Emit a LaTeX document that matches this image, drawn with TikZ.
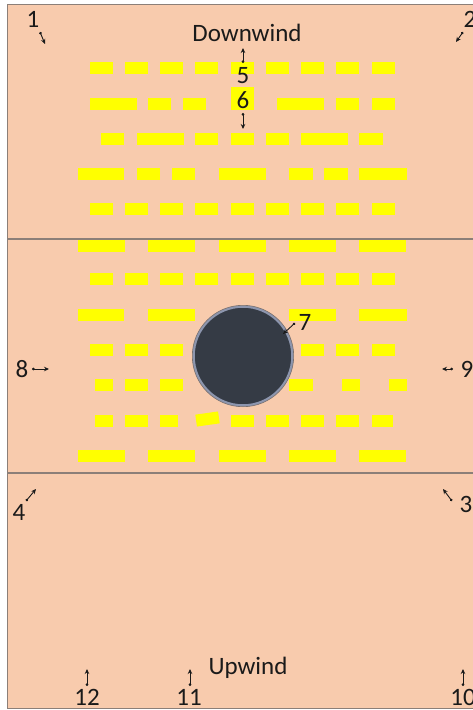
\documentclass[tikz,border=0pt]{standalone}
\usepackage{fontspec}
\setmainfont{Carlito}
\usetikzlibrary{arrows.meta}
\definecolor{peach}{HTML}{F8CBAD}
\definecolor{bar}{HTML}{FFFF00}
\definecolor{edge}{HTML}{8C7F78}
\definecolor{tankfill}{HTML}{353B45}
\definecolor{tankring}{HTML}{8D96AE}
\definecolor{ink}{HTML}{1A1A1A}
\begin{document}
\begin{tikzpicture}[x=1pt,y=-1pt,
  lbl/.style={inner sep=0pt,anchor=base,text=ink,font=\fontsize{25}{30}\selectfont},
  ptr/.style={draw=ink,line width=0.9pt,{Circle[length=2.6pt]}-{Stealth[length=5pt,width=4.5pt]}},
  sbar/.style={fill=bar},
  divider/.style={draw=edge,line width=1.2pt}]
\useasboundingbox (0,0) rectangle (472,710);
\fill[white] (0,0) rectangle (472,710);
\fill[peach] (7,4) rectangle (480,708);
\draw[edge,line width=1pt] (480,4) -- (7,4) -- (7,708) -- (480,708);
\draw[divider] (7,239) -- (480,239);
\draw[divider] (7,473) -- (480,473);
% standard 9-bar rows
\foreach \y in {62,203,273}{
  \foreach \x in {90,125,160,195,231,266,301,336,372}{
    \fill[sbar] (\x,\y) rectangle ++(23,12);}}
% 5 wide-bar rows
\foreach \y in {240,450}{
  \foreach \x in {78,148,219,289,359}{
    \fill[sbar] (\x,\y) rectangle ++(47,12);}}
% row 2
\foreach \a/\b in {90/137,148/171,183/206,277/324,336/359,372/395}{
  \fill[sbar] (\a,98) rectangle (\b,110);}
\fill[sbar] (231,87) rectangle (254,110);
% row 3
\foreach \a/\b in {101/124,137/184,195/218,231/254,266/289,301/348,359/383}{
  \fill[sbar] (\a,133) rectangle (\b,145);}
% row 4
\foreach \a/\b in {78/124,137/160,172/195,219/266,289/313,324/348,359/407}{
  \fill[sbar] (\a,168) rectangle (\b,180);}
% row 8
\foreach \a/\b in {78/124,148/195,289/336,359/407}{
  \fill[sbar] (\a,309) rectangle (\b,321);}
% row 9
\foreach \a/\b in {90/113,125/148,160/183,301/324,336/359,372/395}{
  \fill[sbar] (\a,344) rectangle (\b,356);}
% row 10
\foreach \a/\b in {95/113,125/148,160/183,289/313,342/360,389/407}{
  \fill[sbar] (\a,379) rectangle (\b,391);}
% row 11
\foreach \a/\b in {95/113,125/148,160/178,231/254,266/289,301/324,336/359,372/393}{
  \fill[sbar] (\a,415) rectangle (\b,427);}
\fill[sbar,rotate around={8:(207.5,419)}] (196,413) rectangle (219,425);
% tank
\node[circle,minimum size=99pt,inner sep=0pt,fill=tankfill,draw=tankring,line width=2.5pt] (tank) at (243,356) {};
\draw[edge!80!tankfill,line width=0.6pt] (tank.center) circle (50.7pt);
% labels
\node[lbl] (down) at (247,41) {Downwind};
\node[lbl] (up) at (248,674) {Upwind};
\node[lbl] (n1) at (33,27) {1};
\node[lbl] (n2) at (470,27) {2};
\node[lbl] (n3) at (466,512) {3};
\node[lbl] (n4) at (19,520) {4};
\node[lbl] (n5) at (243,83) {5};
\node[lbl] (n6) at (243,108) {6};
\node[lbl] (n7) at (305,330) {7};
\node[lbl] (n8) at (22,377) {8};
\node[lbl] (n9) at (467,377) {9};
\node[lbl] (n10) at (463,705) {10};
\node[lbl] (n11) at (189,705) {11};
\node[lbl] (n12) at (87,705) {12};
% arrow ends
\coordinate (t1) at (40,32);  \coordinate (h1) at (45,44);
\coordinate (t2) at (463,32); \coordinate (h2) at (456,42);
\coordinate (t3) at (452,501);\coordinate (h3) at (443,489);
\coordinate (t4) at (26,501); \coordinate (h4) at (36,489);
\coordinate (t5) at (243,63); \coordinate (h5) at (243,48);
\coordinate (t6) at (243,113);\coordinate (h6) at (243,129);
\coordinate (t7) at (295,323);\coordinate (h7) at (283,334);
\coordinate (t8) at (32,369); \coordinate (h8) at (49,369);
\coordinate (t9) at (453,369);\coordinate (h9) at (442,369);
\coordinate (t10) at (463,686);\coordinate (h10) at (463,669);
\coordinate (t11) at (190,686);\coordinate (h11) at (190,669);
\coordinate (t12) at (87,686); \coordinate (h12) at (87,669);
\foreach \i in {1,...,12}{\draw[ptr] (t\i) -- (h\i);}
\end{tikzpicture}
\end{document}
